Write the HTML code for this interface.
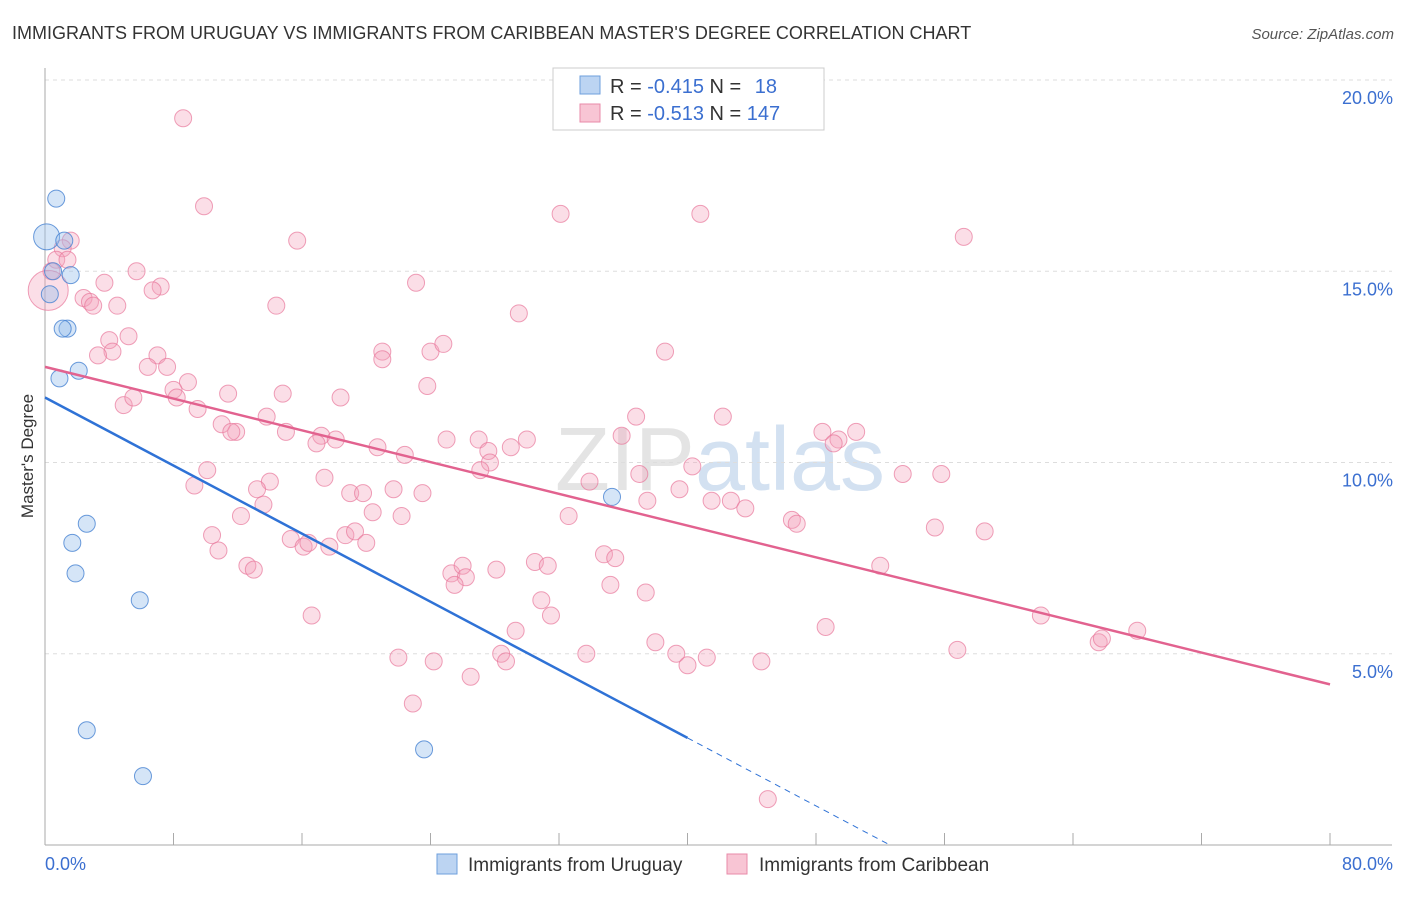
<!DOCTYPE html>
<html><head><meta charset="utf-8">
<style>
body{margin:0;background:#fff;font-family:"Liberation Sans",sans-serif;}
svg text{font-family:"Liberation Sans",sans-serif;}
</style></head>
<body>
<svg id="chart" width="1406" height="892" xmlns="http://www.w3.org/2000/svg">
<text x="12" y="39" font-size="18" fill="#333">IMMIGRANTS FROM URUGUAY VS IMMIGRANTS FROM CARIBBEAN MASTER'S DEGREE CORRELATION CHART</text>
<text x="1394" y="39" font-size="15" fill="#555" font-style="italic" text-anchor="end">Source: ZipAtlas.com</text>
<text x="720" y="490" font-size="90" text-anchor="middle" fill="#e4e4e4" font-family="Liberation Serif">ZIP<tspan fill="#d3e1f1" font-family="Liberation Sans">atlas</tspan></text>
<g id="grid"></g>
<g id="axes"></g>
<g id="pink-pts"></g>
<g id="blue-pts"></g>
<g id="lines"></g>
<text transform="translate(33,456) rotate(-90)" font-size="17" fill="#333" text-anchor="middle">Master's Degree</text>
<g>
<rect x="553" y="68" width="271" height="62" fill="#fff" stroke="#ccc"/>
<rect x="580" y="76" width="20" height="18" fill="#bcd4f2" stroke="#6e9fdc"/>
<rect x="580" y="104" width="20" height="18" fill="#f8c5d4" stroke="#e88aa8"/>
<text x="610" y="93" font-size="20" fill="#333">R = <tspan fill="#3b6fd0">-0.415</tspan>   N =  <tspan fill="#3b6fd0" dx="8">18</tspan></text>
<text x="610" y="120" font-size="20" fill="#333">R = <tspan fill="#3b6fd0">-0.513</tspan>   N = <tspan fill="#3b6fd0">147</tspan></text>
</g>
<g>
<rect x="437" y="854" width="20" height="20" fill="#bcd4f2" stroke="#6e9fdc"/>
<text x="468" y="871" font-size="19" fill="#333">Immigrants from Uruguay</text>
<rect x="727" y="854" width="20" height="20" fill="#f8c5d4" stroke="#e88aa8"/>
<text x="759" y="871" font-size="19" fill="#333">Immigrants from Caribbean</text>
</g>
</svg>
<script>
const yTicks=[5,10,15,20];
const yTickLabels=["5.0%","10.0%","15.0%","20.0%"];
const xTicks=[0,8,16,24,32,40,48,56,64,72,80];
const pinkX=[8.6,9.9,15.7,32.1,40.8,57.2,1.6,1.1,0.7,1.4,0.4,5.7,3.7,7.2,6.7,2.4,2.8,3.0,4.5,14.4,23.1,29.5,5.2,4.0,4.2,3.3,7.0,6.4,7.6,21.0,21.0,24.0,24.8,38.6,8.9,8.0,8.2,11.4,14.8,18.4,23.8,4.9,5.5,9.5,11.0,11.9,11.6,13.8,15.0,17.2,16.9,18.1,20.7,22.4,25.0,27.0,27.6,29.0,30.0,36.8,35.9,42.2,48.4,49.4,50.5,49.1,27.7,27.1,10.1,9.3,14.0,13.2,13.6,12.2,17.4,19.0,19.8,21.7,23.5,20.4,22.2,33.9,37.0,40.3,39.5,37.5,41.5,42.7,43.6,32.6,46.5,46.8,53.4,55.8,55.4,58.5,10.4,10.8,15.3,16.1,16.4,17.7,18.7,19.3,20.0,12.6,13.0,25.3,26.0,26.2,25.5,28.1,30.5,31.3,34.8,35.5,35.2,37.4,30.9,31.5,52.0,16.6,29.3,48.6,62.0,65.6,65.8,68.0,22.0,24.2,28.4,28.7,26.5,22.9,33.7,38.0,39.3,40.0,41.2,44.6,56.8,45.0,0.2];
const pinkY=[19.0,16.7,15.8,16.5,16.5,15.9,15.8,15.6,15.3,15.3,15.0,15.0,14.7,14.6,14.5,14.3,14.2,14.1,14.1,14.1,14.7,13.9,13.3,13.2,12.9,12.8,12.8,12.5,12.5,12.9,12.7,12.9,13.1,12.9,12.1,11.9,11.7,11.8,11.8,11.7,12.0,11.5,11.7,11.4,11.0,10.8,10.8,11.2,10.8,10.7,10.5,10.6,10.4,10.2,10.6,10.6,10.3,10.4,10.6,11.2,10.7,11.2,10.8,10.6,10.8,10.5,10.0,9.8,9.8,9.4,9.5,9.3,8.9,8.6,9.6,9.2,9.2,9.3,9.2,8.7,8.6,9.5,9.7,9.9,9.3,9.0,9.0,9.0,8.8,8.6,8.5,8.4,9.7,9.7,8.3,8.2,8.1,7.7,8.0,7.8,7.9,7.8,8.1,8.2,7.9,7.3,7.2,7.1,7.3,7.0,6.8,7.2,7.4,7.3,7.6,7.5,6.8,6.6,6.4,6.0,7.3,6.0,5.6,5.7,6.0,5.3,5.4,5.6,4.9,4.8,5.0,4.8,4.4,3.7,5.0,5.3,5.0,4.7,4.9,4.8,5.1,1.2,14.5];
const blueX=[0.7,0.1,1.2,1.6,0.5,0.3,1.4,1.1,2.1,0.9,2.6,1.7,1.9,5.9,2.6,6.1,23.6,35.3];
const blueY=[16.9,15.9,15.8,14.9,15.0,14.4,13.5,13.5,12.4,12.2,8.4,7.9,7.1,6.4,3.0,1.8,2.5,9.1];
const pinkTrend=[[0,12.5],[80,4.2]];
const blueTrend=[[0,11.7],[40.0,2.8]];
const blueTrendDash=[[40.0,2.8],[52.6,0]];

const NS="http://www.w3.org/2000/svg";
const X0=45,X1=1330,Y0=845,Y20=80;
function sx(v){return X0+(v/80)*(X1-X0);}
function sy(v){return Y0-(v/20)*(Y0-Y20);}
function mk(tag,attrs,parent){const e=document.createElementNS(NS,tag);for(const k in attrs)e.setAttribute(k,attrs[k]);parent.appendChild(e);return e;}

const grid=document.getElementById('grid');
yTicks.forEach((t,i)=>{
  const l=mk('line',{x1:X0,x2:1392,y1:sy(t),y2:sy(t),stroke:'#ddd','stroke-dasharray':'4,4'},grid);
  
  
  const tx=mk('text',{x:1393,y:sy(t)+24,'font-size':18,fill:'#3b6fd0','text-anchor':'end'},grid);
  tx.textContent=yTickLabels[i];
  
  
});
const axes=document.getElementById('axes');
const ya=mk('line',{x1:X0,x2:X0,y1:68,y2:Y0,stroke:'#aaa'},axes);


const xa=mk('line',{x1:X0,x2:1392,y1:Y0,y2:Y0,stroke:'#aaa'},axes);


xTicks.forEach(t=>{
  const l=mk('line',{x1:sx(t),x2:sx(t),y1:Y0-12,y2:Y0,stroke:'#aaa'},axes);
  
  
});
const xl0=mk('text',{x:45,y:870,'font-size':18,fill:'#3b6fd0'},axes);xl0.textContent='0.0%';


const xl1=mk('text',{x:1393,y:870,'font-size':18,fill:'#3b6fd0','text-anchor':'end'},axes);xl1.textContent='80.0%';



const pg=document.getElementById('pink-pts');
pinkX.forEach((x,i)=>{
  const big=(i===pinkX.length-1);
  const c=mk('circle',{cx:sx(x),cy:sy(pinkY[i]),r:big?20:8.5,fill:'rgba(244,160,186,0.35)',stroke:'rgba(232,120,155,0.7)','stroke-width':1},pg);
  
  
});
const bg=document.getElementById('blue-pts');
blueX.forEach((x,i)=>{
  const c=mk('circle',{cx:sx(x),cy:sy(blueY[i]),r:i===1?13:8.5,fill:'rgba(150,190,235,0.4)',stroke:'rgba(70,130,210,0.8)','stroke-width':1},bg);
  
  
});
const lg=document.getElementById('lines');
const pl=mk('line',{x1:sx(pinkTrend[0][0]),y1:sy(pinkTrend[0][1]),x2:sx(pinkTrend[1][0]),y2:sy(pinkTrend[1][1]),stroke:'#e2628f','stroke-width':2.5},lg);


const bl=mk('line',{x1:sx(blueTrend[0][0]),y1:sy(blueTrend[0][1]),x2:sx(blueTrend[1][0]),y2:sy(blueTrend[1][1]),stroke:'#2f72d6','stroke-width':2.5},lg);


const bd=mk('line',{x1:sx(blueTrendDash[0][0]),y1:sy(blueTrendDash[0][1]),x2:sx(blueTrendDash[1][0]),y2:sy(blueTrendDash[1][1]),stroke:'#2f72d6','stroke-width':1,'stroke-dasharray':'6,5'},lg);


</script>
</body></html>
